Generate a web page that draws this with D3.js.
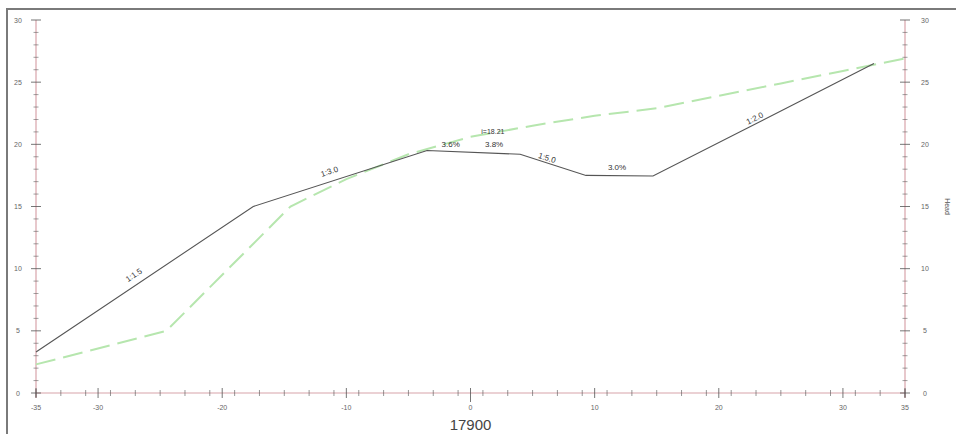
<!DOCTYPE html>
<html><head><meta charset="utf-8">
<script src="https://cdn.jsdelivr.net/npm/d3@7"></script>
<style>body{margin:0;background:#fff}svg{display:block}</style>
</head><body>
<svg id="c" width="956" height="434"></svg>
<script>
// ---- data ----
const groundX = [-35, -17.5, -3.5, 4, 9.3, 14.7, 32.5];
const groundY = [3.3, 15, 19.5, 19.2, 17.5, 17.45, 26.5];
const designX = [-35, -24.5, -14.5, -10, -5, 0, 5, 10, 15, 20, 25, 30, 35];
const designY = [2.3, 5.0, 15.0, 17.2, 19.2, 20.6, 21.5, 22.3, 22.9, 23.9, 24.9, 25.9, 26.9];
const noteText = ["1:1.5", "1:3.0", "3.6%", "i=18.21", "3.8%", "1:5.0", "3.0%", "1:2.0"];
const noteX = [-27, -11.3, -1.6, 1.8, 1.9, 6.1, 11.8, 23];
const noteY = [9.3, 17.6, 19.8, 20.8, 19.75, 18.7, 17.9, 21.9];
const noteSeg = [0, 1, 2, -1, 2, 3, 4, 5]; // segment used for rotation (-1: none)
const xTicks = [-35, -30, -20, -10, 0, 10, 20, 30, 35];
const yTicks = [0, 5, 10, 15, 20, 25, 30];
const xTitle = "17900";
const yTitleRight = "Head";

// ---- layout ----
const svg = d3.select("#c");
const x = d3.scaleLinear().domain([-35, 35]).range([36, 905]);
const y = d3.scaleLinear().domain([0, 30]).range([393, 20]);
const font = "Liberation Sans, Arial, sans-serif";
const axisCol = "#d8a3aa", tickCol = "#555", labCol = "#666";

// frame
svg.append("rect").attr("x", 7).attr("y", 9).attr("width", 960).attr("height", 440)
  .attr("fill", "none").attr("stroke", "#7a7a7a").attr("stroke-width", 2);

// axes lines
const g = svg.append("g");
g.append("line").attr("x1", x(-35)).attr("x2", x(35)).attr("y1", y(0)).attr("y2", y(0))
  .attr("stroke", axisCol).attr("stroke-width", 1.2);
g.append("line").attr("x1", x(-35)).attr("x2", x(-35)).attr("y1", y(30)).attr("y2", y(0) + 5)
  .attr("stroke", axisCol).attr("stroke-width", 1.2);
g.append("line").attr("x1", x(35)).attr("x2", x(35)).attr("y1", y(30)).attr("y2", y(0) + 5)
  .attr("stroke", axisCol).attr("stroke-width", 1.2);

// y ticks (minor every 1, major every 5) both sides
d3.range(0, 31, 1).forEach(v => {
  const major = v % 5 === 0;
  const len = major ? 5 : 2.5;
  [x(-35), x(35)].forEach(px => {
    g.append("line").attr("x1", px - len).attr("x2", px + len).attr("y1", y(v)).attr("y2", y(v))
      .attr("stroke", tickCol).attr("stroke-width", major ? 1 : 0.9).attr("opacity", major ? 0.8 : 0.6);
  });
});
yTicks.forEach(v => {
  g.append("text").attr("x", x(-35) - 18).attr("y", y(v) + 2.5).attr("text-anchor", "middle")
    .attr("font-family", font).attr("font-size", 7).attr("fill", labCol).text(v);
  g.append("text").attr("x", x(35) + 20).attr("y", y(v) + 2.5).attr("text-anchor", "middle")
    .attr("font-family", font).attr("font-size", 7).attr("fill", labCol).text(v);
});

// x ticks (minor every 2, major at labelled values)
d3.range(-35, 35.01, 2).forEach(v => {
  const major = xTicks.includes(v);
  g.append("line").attr("x1", x(v)).attr("x2", x(v)).attr("y1", y(0) - (major ? 4 : 3)).attr("y2", y(0) + (major ? 4 : 3))
    .attr("stroke", tickCol).attr("opacity", 0.6);
});
xTicks.forEach(v => {
  g.append("line").attr("x1", x(v)).attr("x2", x(v)).attr("y1", y(0) - 5).attr("y2", y(0) + (v === 0 ? 9 : 5))
    .attr("stroke", tickCol).attr("opacity", 0.8);
  g.append("text").attr("x", x(v)).attr("y", y(0) + 17).attr("text-anchor", "middle")
    .attr("font-family", font).attr("font-size", 7).attr("fill", labCol).text(v);
});

// titles
svg.append("text").attr("x", x(0)).attr("y", 430).attr("text-anchor", "middle")
  .attr("font-family", font).attr("font-size", 15).attr("fill", "#444").text(xTitle);
svg.append("text").attr("transform", `translate(945,${y(15)}) rotate(90)`).attr("text-anchor", "middle")
  .attr("font-family", font).attr("font-size", 7).attr("fill", "#555").text(yTitleRight);

// lines
const line = d3.line().x(d => x(d[0])).y(d => y(d[1]));
const design = designX.map((v, i) => [v, designY[i]]);
const ground = groundX.map((v, i) => [v, groundY[i]]);
svg.append("path").datum(design).attr("d", line).attr("fill", "none")
  .attr("stroke", "#b6e6ae").attr("stroke-width", 2).attr("stroke-dasharray", "20,8");
svg.append("path").datum(ground).attr("d", line).attr("fill", "none")
  .attr("stroke", "#555").attr("stroke-width", 1.1);

// annotations
noteText.forEach((t, i) => {
  let ang = 0;
  const s = noteSeg[i];
  if (s >= 0 && (t.startsWith("1:"))) {
    const dx = x(groundX[s + 1]) - x(groundX[s]);
    const dy = y(groundY[s + 1]) - y(groundY[s]);
    ang = Math.atan2(dy, dx) * 180 / Math.PI;
  }
  svg.append("text").attr("transform", `translate(${x(noteX[i])},${y(noteY[i])}) rotate(${ang})`)
    .attr("text-anchor", "middle").attr("font-family", font).attr("font-size", t.startsWith("i=") ? 7 : 8)
    .attr("fill", "#333").text(t);
});
</script>
</body></html>
